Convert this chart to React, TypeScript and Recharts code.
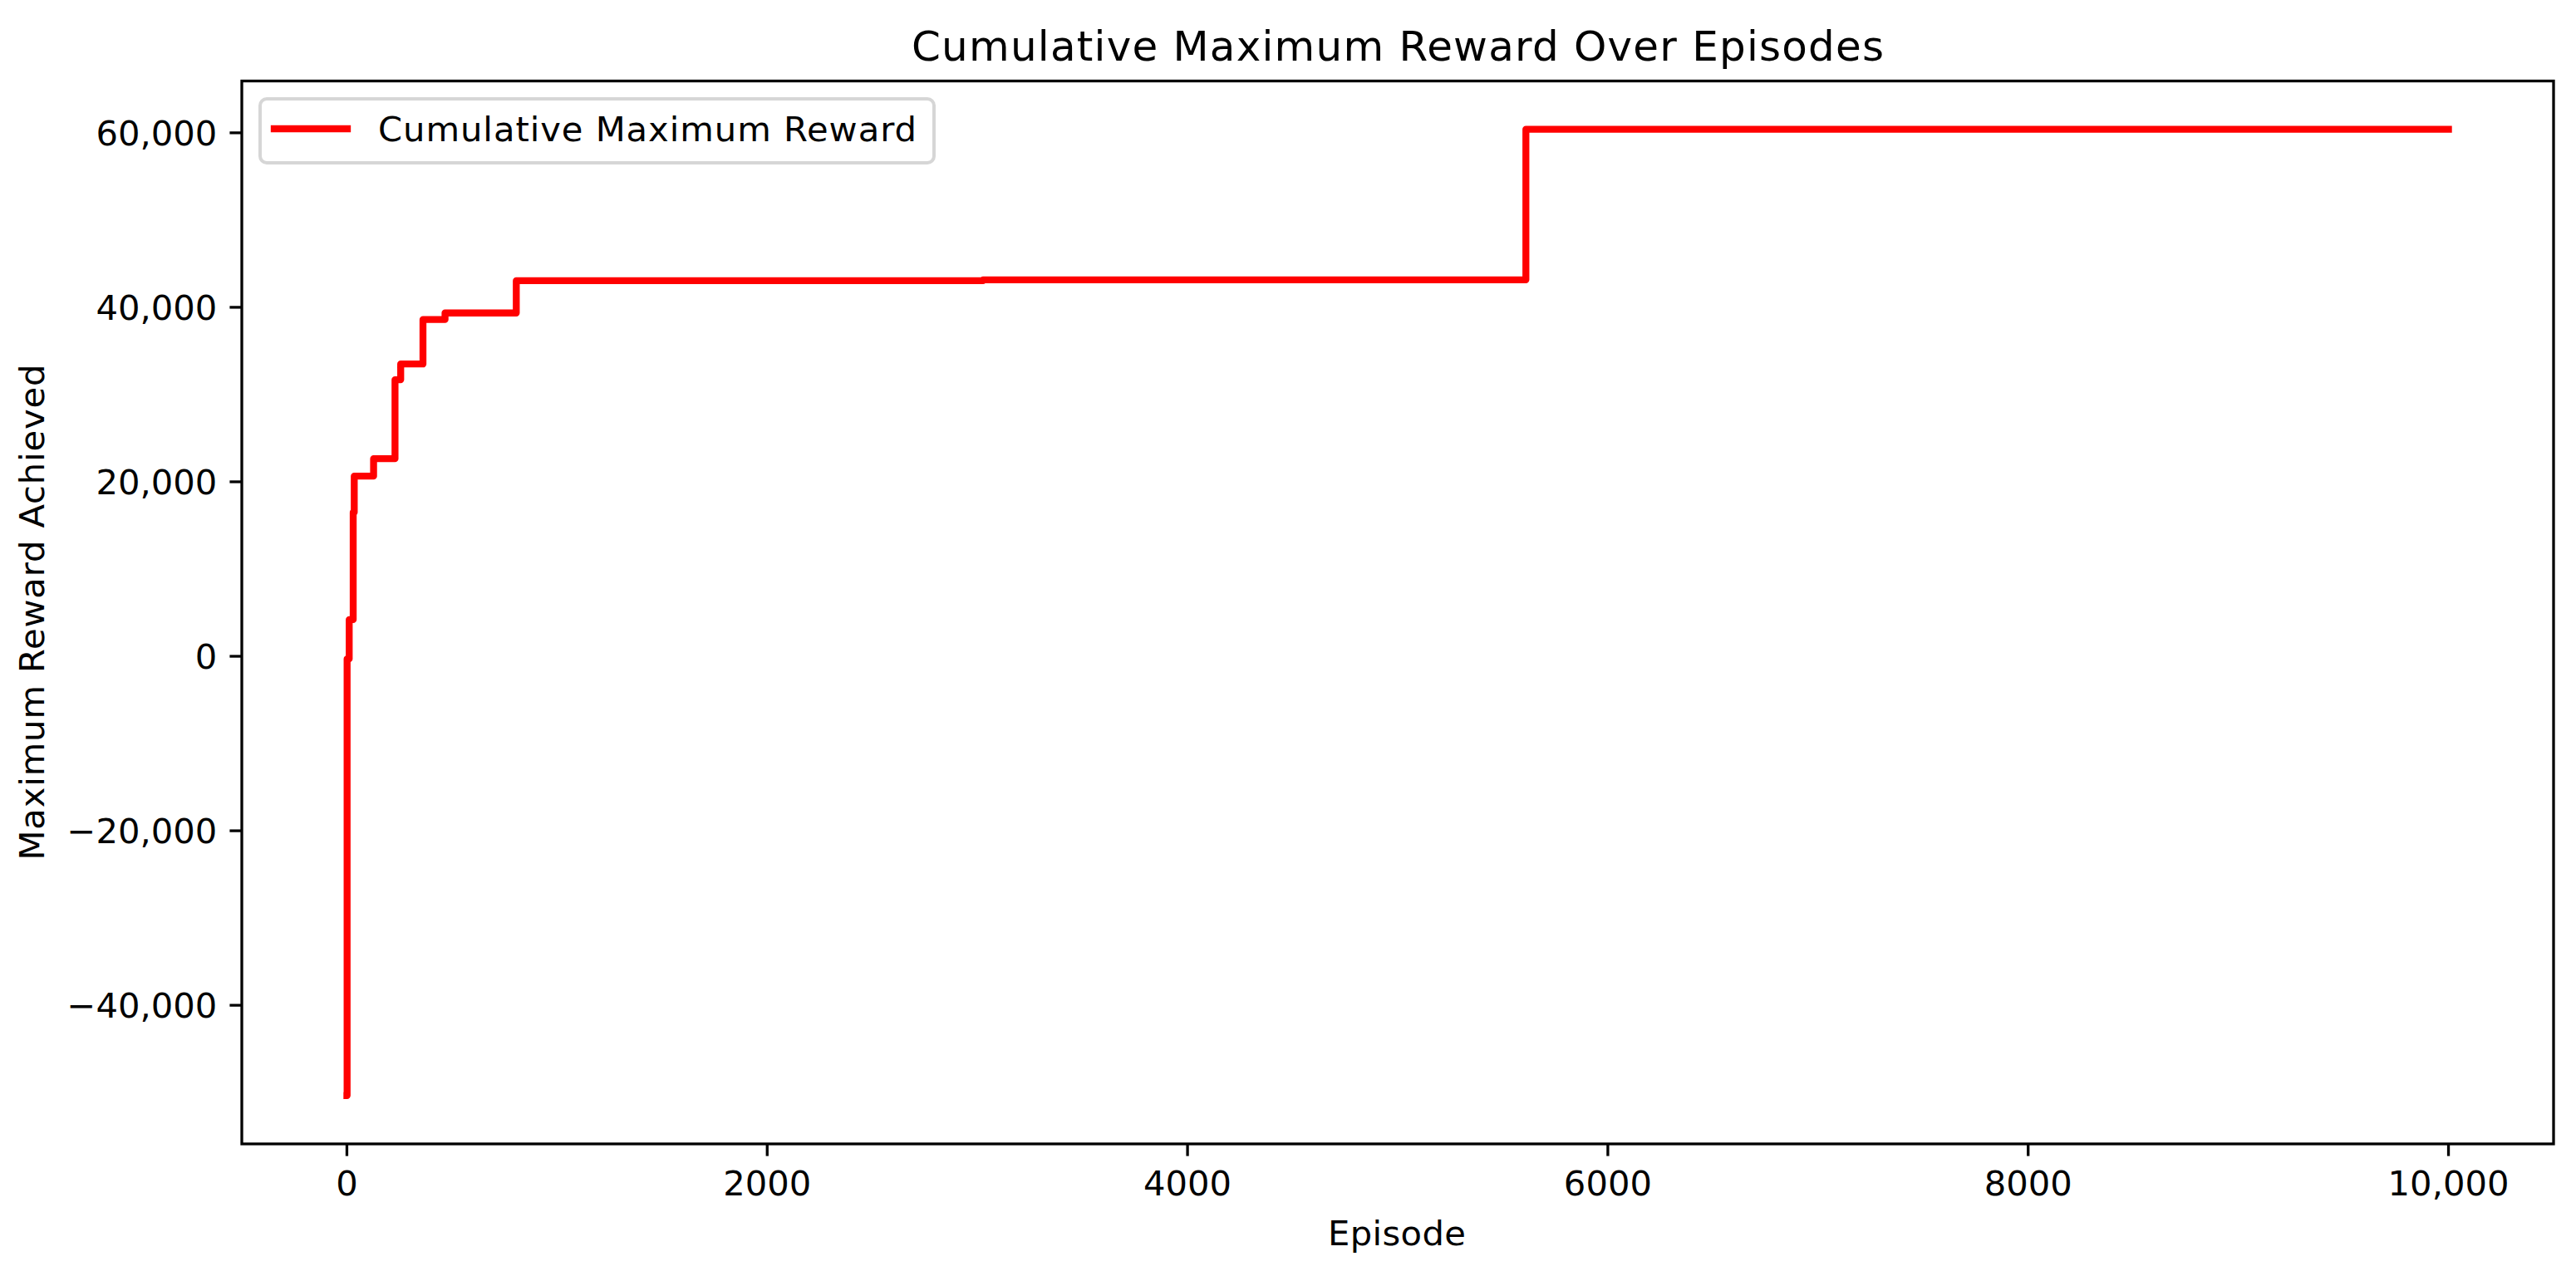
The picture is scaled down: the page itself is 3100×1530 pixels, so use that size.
import React from 'react';
import { LineChart, Line, XAxis, YAxis } from 'recharts';

// Episodes where the running maximum changes, and the value it jumps to
const episodes = [0, 1, 11, 30, 35, 127, 229, 256, 362, 467, 806, 3027, 5610, 10000];
const maxRewards = [-50350, -300, 4200, 16500, 20650, 22650, 31700, 33500, 38600, 39350, 43050, 43150, 60400, 60400];

const xTicks = [0, 2000, 4000, 6000, 8000, 10000];
const yTicks = [-40000, -20000, 0, 20000, 40000, 60000];

const data = episodes.map((ep, i) => ({ episode: ep, reward: maxRewards[i] }));

const FONT = '"DejaVu Sans", sans-serif';
const W = 3100;
const H = 1530;

// plot box
const LEFT = 291;
const RIGHT = 3073;
const TOP = 97.5;
const BOTTOM = 1377;

const formatY = (v: number) =>
  v < 0 ? '\u2212' + Math.abs(v).toLocaleString('en-US') : v.toLocaleString('en-US');
const formatX = (v: number) => (v >= 10000 ? v.toLocaleString('en-US') : String(v));

const App: React.FC = () => {
  return (
    <div style={{ position: 'absolute', left: 0, top: 0, width: W, height: H, background: '#fff' }}>
      <LineChart
        width={W}
        height={H}
        data={data}
        margin={{ top: TOP, right: W - RIGHT, bottom: 0, left: 0 }}
      >
        <XAxis
          dataKey="episode"
          type="number"
          domain={[-500, 10500]}
          ticks={xTicks}
          tickFormatter={formatX}
          allowDataOverflow
          height={H - BOTTOM}
          axisLine={false}
          tickLine={{ stroke: '#000', strokeWidth: 3.3 }}
          tickSize={14.6}
          tickMargin={17.8}
          tick={{ fill: '#000', fontSize: 41.7, fontFamily: FONT }}
        />
        <YAxis
          type="number"
          domain={[-55890, 65940]}
          ticks={yTicks}
          tickFormatter={formatY}
          allowDataOverflow
          width={LEFT}
          axisLine={false}
          tickLine={{ stroke: '#000', strokeWidth: 3.3 }}
          tickSize={14.6}
          tickMargin={15}
          tick={{ fill: '#000', fontSize: 41.7, fontFamily: FONT }}
        />
        <Line
          dataKey="reward"
          type="stepAfter"
          stroke="#ff0000"
          strokeWidth={8.33}
          strokeLinejoin="round"
          strokeLinecap="square"
          dot={false}
          activeDot={false}
          isAnimationActive={false}
        />
      </LineChart>

      <svg
        width={W}
        height={H}
        style={{ position: 'absolute', left: 0, top: 0, pointerEvents: 'none' }}
        fontFamily={FONT}
      >
        {/* axes frame */}
        <rect
          x={LEFT}
          y={TOP}
          width={RIGHT - LEFT}
          height={BOTTOM - TOP}
          fill="none"
          stroke="#000"
          strokeWidth={3.3}
        />

        {/* title */}
        <text x={(LEFT + RIGHT) / 2} y={73} textAnchor="middle" fontSize={50} fill="#000" textLength={1170} lengthAdjust="spacing">
          Cumulative Maximum Reward Over Episodes
        </text>

        {/* axis labels */}
        <text x={1681} y={1499} textAnchor="middle" fontSize={41.7} fill="#000" textLength={166} lengthAdjust="spacing">
          Episode
        </text>
        <text
          transform="translate(53, 737) rotate(-90)"
          textAnchor="middle"
          fontSize={41.7}
          fill="#000"
          textLength={597}
          lengthAdjust="spacing"
        >
          Maximum Reward Achieved
        </text>

        {/* legend */}
        <rect x={313} y={119} width={811} height={77} rx={8} fill="#fff" fillOpacity={0.8} stroke="#d6d6d6" strokeWidth={4} />
        <line x1={330} y1={155} x2={418} y2={155} stroke="#ff0000" strokeWidth={8.33} strokeLinecap="square" />
        <text x={455} y={170} fontSize={41.7} fill="#000" textLength={648} lengthAdjust="spacing">
          Cumulative Maximum Reward
        </text>
      </svg>
    </div>
  );
};

export default App;
